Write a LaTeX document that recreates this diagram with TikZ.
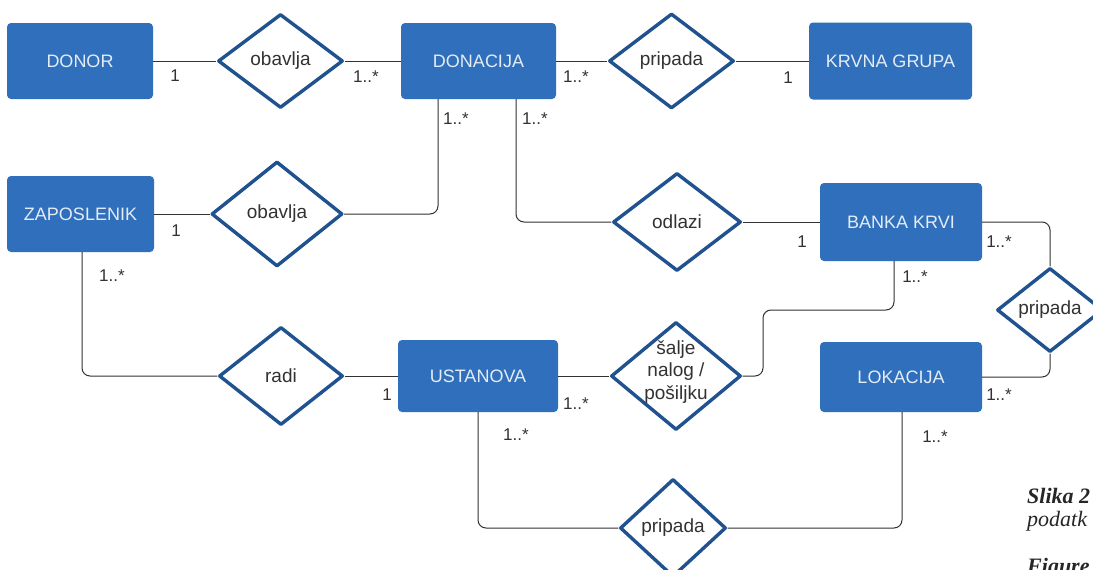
\documentclass[tikz,border=0pt]{standalone}
\usepackage{fontspec}
\setmainfont{Liberation Sans}
\newfontfamily\capfont{Liberation Serif}
\usetikzlibrary{shapes.geometric}
\definecolor{entblue}{RGB}{47,111,187}
\definecolor{enttext}{RGB}{228,236,246}
\definecolor{relblue}{RGB}{31,82,142}
\definecolor{linegray}{RGB}{50,50,50}
\definecolor{labgray}{RGB}{50,50,50}
\tikzset{
  ent/.style={rectangle, fill=entblue, rounded corners=4pt, text=enttext, inner sep=0pt,
    font=\fontsize{18}{21}\selectfont},
  rel/.style={diamond, draw=relblue, line width=3.4pt, fill=white, inner sep=0pt,
    line join=round, text=labgray, font=\fontsize{19}{22.5}\selectfont, align=center},
  conn/.style={draw=linegray, line width=1pt, rounded corners=8pt},
  card/.style={text=labgray, inner sep=0pt, font=\fontsize{17}{20}\selectfont},
  captxt/.style={inner sep=0pt, anchor=base west, text=black!85}
}
\begin{document}
\begin{tikzpicture}[x=1pt, y=-1pt]
\useasboundingbox (0,0) rectangle (1093,570);
\clip (0,0) rectangle (1093,570);
\fill[white] (0,0) rectangle (1093,570);

% entities
\node[ent, minimum width=146, minimum height=76] (donor) at (80,61) {DONOR};
\node[ent, minimum width=155, minimum height=76] (donacija) at (478.5,61) {DONACIJA};
\node[ent, minimum width=163, minimum height=77] (krvna) at (890.5,61) {KRVNA GRUPA};
\node[ent, minimum width=147, minimum height=76] (zap) at (80.5,214) {ZAPOSLENIK};
\node[ent, minimum width=162, minimum height=78] (banka) at (901,222) {BANKA KRVI};
\node[ent, minimum width=160, minimum height=72] (ust) at (478,376) {USTANOVA};
\node[ent, minimum width=162, minimum height=70] (lok) at (901,377) {LOKACIJA};

% relationships
\node[rel, minimum width=125, minimum height=94] (r1) at (280.5,61) {obavlja};
\node[rel, minimum width=125, minimum height=95] (r2) at (671.5,61) {pripada};
\node[rel, minimum width=131, minimum height=105] (r3) at (277,214) {obavlja};
\node[rel, minimum width=128, minimum height=98] (r4) at (677,222) {odlazi};
\node[rel, minimum width=106, minimum height=84] (r5) at (1050,310) {pripada};
\node[rel, minimum width=124, minimum height=98] (r6) at (281,376) {radi};
\node[rel, minimum width=130, minimum height=108] (r7) at (676,376) {\smash{\parbox[c]{80pt}{\centering šalje\\nalog /\\pošiljku}}};
\node[rel, minimum width=106, minimum height=98] (r8) at (673,528) {pripada};

% connectors
\draw[conn] (donor.east) -- (r1.west);
\draw[conn] (r1.east) -- (donacija.west);
\draw[conn] (donacija.east) -- (r2.west);
\draw[conn] (r2.east) -- (krvna.west);
\draw[conn] (zap.east) -- (r3.west);
\draw[conn] (r3.east) -| ([xshift=-40.5pt]donacija.south);
\draw[conn] ([xshift=37.5pt]donacija.south) |- (r4.west);
\draw[conn] (r4.east) -- (banka.west);
\draw[conn] (banka.east) -| (r5.north);
\draw[conn] (r5.south) |- (lok.east);
\draw[conn] ([xshift=1.5pt]zap.south) |- (r6.west);
\draw[conn] (r6.east) -- (ust.west);
\draw[conn] (ust.east) -- (r7.west);
\coordinate (s1) at (763,310);
\draw[conn] (r7.east) -| (s1) -| ([xshift=-7pt]banka.south);
\draw[conn] (ust.south) |- (r8.west);
\draw[conn] ([xshift=1pt]lok.south) |- (r8.east);

% cardinalities
\node[card] (c1) at (175,76) {1};
\node[card] (c2) at (366,77) {1..*};
\node[card] (c3) at (576,77) {1..*};
\node[card] (c4) at (788,78) {1};
\node[card] (c5) at (456,119) {1..*};
\node[card] (c6) at (535,119) {1..*};
\node[card] (c7) at (176,231) {1};
\node[card] (c8) at (802,242) {1};
\node[card] (c9) at (999,242) {1..*};
\node[card] (c10) at (915,277) {1..*};
\node[card] (c11) at (112,276) {1..*};
\node[card] (c12) at (387,395) {1};
\node[card] (c13) at (576,404) {1..*};
\node[card] (c14) at (999,395) {1..*};
\node[card] (c15) at (516,435) {1..*};
\node[card] (c16) at (935,437) {1..*};

% caption fragments (cut off by the picture's edges, as in the reference)
\node[captxt, font=\capfont\bfseries\itshape\fontsize{22}{26}\selectfont] (cap1) at (1027,503) {Slika 2};
\node[captxt, font=\capfont\itshape\fontsize{22}{26}\selectfont] (cap2) at (1027,526) {podatk};
\node[captxt, font=\capfont\bfseries\itshape\fontsize{22}{26}\selectfont] (cap3) at (1027,573) {Figure};
\end{tikzpicture}
\end{document}
